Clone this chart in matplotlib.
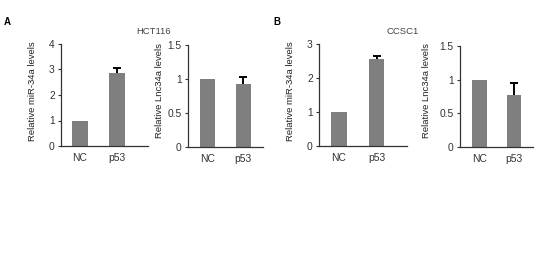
import matplotlib
matplotlib.use("Agg")
import matplotlib.pyplot as plt

plt.rcParams['font.family'] = ['Liberation Sans', 'DejaVu Sans']

W, H = 538, 254

groups = ["NC", "p53"]

# panel A (HCT116)
a_mir = [1.0, 2.85]
a_mir_err = [0.0, 0.2]
a_lnc = [1.0, 0.92]
a_lnc_err = [0.0, 0.11]

# panel B (CCSC1)
b_mir = [1.0, 2.55]
b_mir_err = [0.0, 0.11]
b_lnc = [1.0, 0.77]
b_lnc_err = [0.0, 0.18]

mir_label = "Relative miR-34a levels"
lnc_label = "Relative Lnc34a levels"

# (left px, right px, top px, bottom px, xlim, ymax, yticks, tick labels, ylabel x px)
panels = [
    (61, 148, 44, 146, (-0.5, 1.82), 4, [0, 1, 2, 3, 4], ["0", "1", "2", "3", "4"], 37, a_mir, a_mir_err, mir_label),
    (188, 263, 45, 147, (-0.53, 1.55), 1.5, [0, 0.5, 1, 1.5], ["0", "0.5", "1", "1.5"], 164, a_lnc, a_lnc_err, lnc_label),
    (319, 407, 44, 146, (-0.53, 1.81), 3, [0, 1, 2, 3], ["0", "1", "2", "3"], 295, b_mir, b_mir_err, mir_label),
    (460, 533, 46, 147, (-0.57, 1.55), 1.5, [0, 0.5, 1, 1.5], ["0", "0.5", "1", "1.5"], 431, b_lnc, b_lnc_err, lnc_label),
]

fig = plt.figure(figsize=(W / 100, H / 100), dpi=100)

for left, right, top, bottom, xlim, ymax, yt, ytl, labx, vals, errs, lab in panels:
    ax = fig.add_axes([left / W, 1 - bottom / H, (right - left) / W, (bottom - top) / H])
    x = list(range(len(groups)))
    ax.bar(x, vals, width=0.42, color="#7f7f7f", zorder=2)
    eb = ax.errorbar(x[1:], vals[1:], yerr=[[0], errs[1:]], fmt="none", ecolor="black",
                     elinewidth=1.4, capsize=3, capthick=1.4, zorder=3)
    # only the upper cap, like the original
    caps = sorted(eb[1], key=lambda c: c.get_ydata()[0])
    caps[0].set_visible(False)
    ax.set_xlim(*xlim)
    ax.set_ylim(0, ymax)
    ax.set_yticks(yt)
    ax.set_yticklabels(ytl)
    ax.set_xticks(x)
    ax.set_xticklabels(groups)
    ax.tick_params(axis="x", length=0, pad=5, labelsize=7.4, colors="#333333")
    ax.tick_params(axis="y", length=2.5, width=0.8, pad=2, labelsize=7.4, colors="#333333")
    for s in ["top", "right"]:
        ax.spines[s].set_visible(False)
    for s in ["left", "bottom"]:
        ax.spines[s].set_color("#333333")
        ax.spines[s].set_linewidth(0.9)
    ax.set_ylabel(lab, fontsize=6.8, color="#222222")
    ax.yaxis.set_label_coords(labx / W, 1 - 91 / H, transform=fig.transFigure)

fig.text(153 / W, 1 - 31 / H, "HCT116", ha="center", va="center", fontsize=6.8, color="#444444")
fig.text(403 / W, 1 - 31 / H, "CCSC1", ha="center", va="center", fontsize=6.8, color="#444444")
fig.text(7 / W, 1 - 22 / H, "A", ha="center", va="center", fontsize=7, fontweight="bold")
fig.text(277 / W, 1 - 22 / H, "B", ha="center", va="center", fontsize=7, fontweight="bold")

fig.savefig("out.png", dpi=100)
